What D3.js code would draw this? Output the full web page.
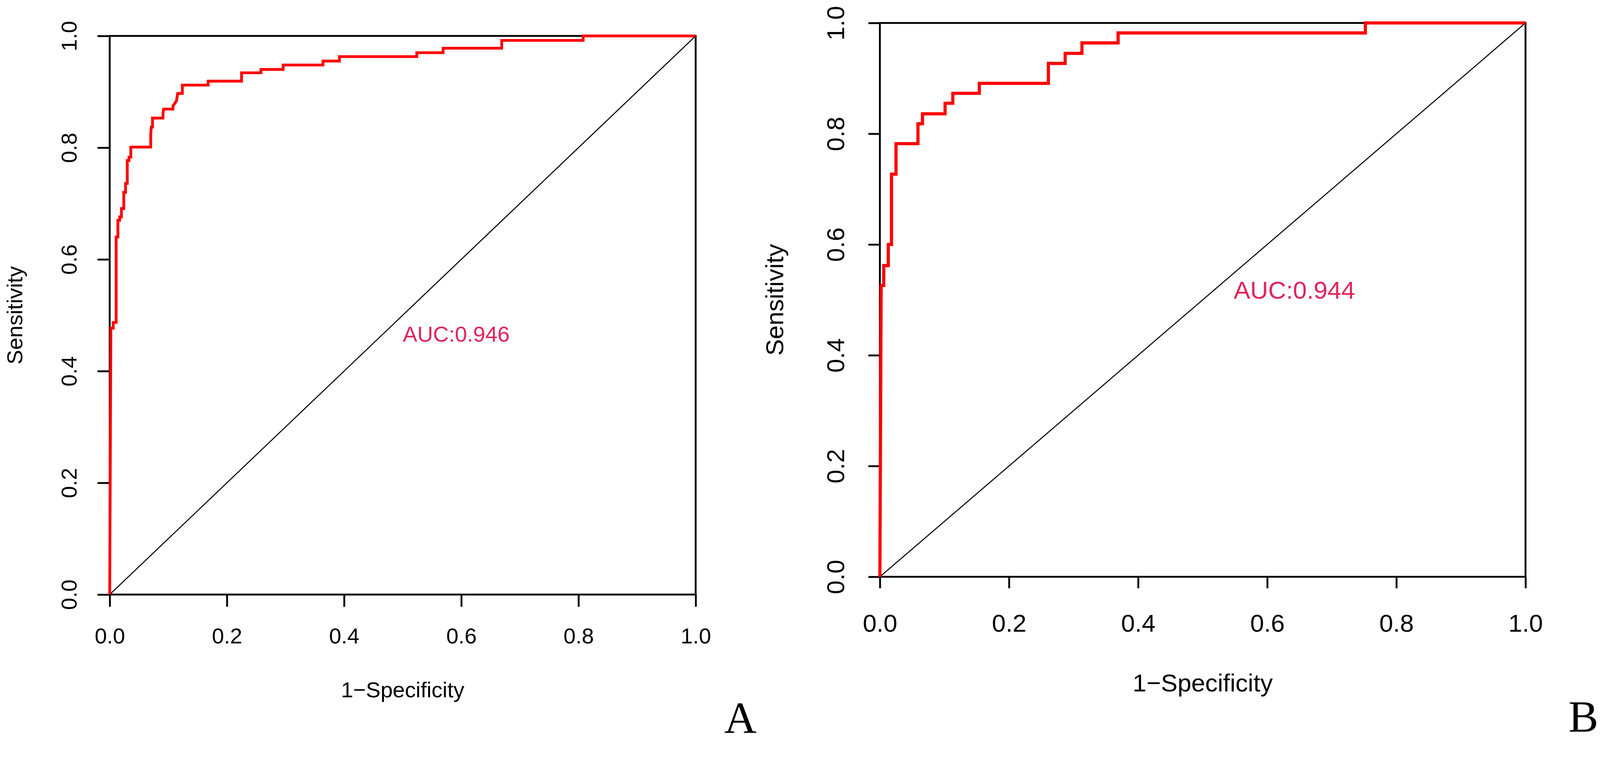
<!DOCTYPE html>
<html>
<head>
<meta charset="utf-8">
<script src="https://cdn.jsdelivr.net/npm/d3@7"></script>
<style>
  html, body { margin: 0; padding: 0; background: #fff; overflow: hidden; }
  svg text { font-family: "Liberation Sans", Arial, sans-serif; }
</style>
</head>
<body>
<div id="chart"></div>
<script>
// ROC curve A (1-specificity, sensitivity) vertices
const fprA = [0, 0.002, 0.006, 0.006, 0.011, 0.011, 0.014, 0.014, 0.017, 0.017,
  0.020, 0.020, 0.024, 0.024, 0.027, 0.027, 0.030, 0.030, 0.033, 0.033,
  0.036, 0.036, 0.070, 0.070, 0.071, 0.073, 0.073, 0.091, 0.091, 0.092,
  0.108, 0.108, 0.111, 0.114, 0.116, 0.124, 0.124, 0.168, 0.168, 0.225,
  0.225, 0.258, 0.258, 0.296, 0.296, 0.364, 0.364, 0.392, 0.392, 0.524,
  0.524, 0.569, 0.569, 0.669, 0.669, 0.808, 0.808, 1];
const tprA = [0, 0.477, 0.477, 0.487, 0.487, 0.640, 0.640, 0.670, 0.670, 0.676,
  0.676, 0.691, 0.691, 0.720, 0.720, 0.736, 0.736, 0.777, 0.777, 0.783,
  0.783, 0.801, 0.801, 0.823, 0.837, 0.837, 0.853, 0.853, 0.862, 0.869,
  0.869, 0.875, 0.879, 0.884, 0.897, 0.897, 0.912, 0.912, 0.919, 0.919,
  0.934, 0.934, 0.940, 0.940, 0.948, 0.948, 0.955, 0.955, 0.963, 0.963,
  0.970, 0.970, 0.978, 0.978, 0.992, 0.992, 1.0, 1];

// ROC curve B
const fprB = [0, 0.002, 0.006, 0.006, 0.013, 0.013, 0.018, 0.018, 0.025, 0.025,
  0.059, 0.059, 0.066, 0.066, 0.101, 0.101, 0.113, 0.113, 0.154, 0.154,
  0.261, 0.261, 0.287, 0.287, 0.313, 0.313, 0.369, 0.369, 0.752, 0.752, 1];
const tprB = [0, 0.526, 0.526, 0.562, 0.562, 0.600, 0.600, 0.727, 0.727, 0.782,
  0.782, 0.818, 0.818, 0.836, 0.836, 0.855, 0.855, 0.873, 0.873, 0.891,
  0.891, 0.927, 0.927, 0.945, 0.945, 0.964, 0.964, 0.982, 0.982, 1.0, 1];

const tickValues = [0, 0.2, 0.4, 0.6, 0.8, 1.0];
const aucLabels = ["AUC:0.946", "AUC:0.944"];
const aucAt = [[0.5, 0.453], [0.548, 0.502]];
const panelLetters = ["A", "B"];
const xTitle = "1\u2212Specificity";
const yTitle = "Sensitivity";

const width = 4317, height = 1985;

// viewBox anchored top-left so the figure fits the window width
const svg = d3.select("#chart").append("svg")
  .attr("viewBox", `0 0 ${width} ${height}`)
  .attr("preserveAspectRatio", "xMinYMin meet")
  .style("width", "100vw")
  .style("height", "100vh")
  .style("display", "block");

// layout of the two panels (pixels)
const panels = [
  { l: 296, r: 1877, t: 97, b: 1605, font: 59, tick: 33, xLabY: 132, yLabX: 89,
    xTitleY: 277, yTitleX: 236, lw: 7.5, letterX: 1954, letterY: 1978,
    fpr: fprA, tpr: tprA, auc: aucLabels[0], aucPos: aucAt[0], letter: panelLetters[0] },
  { l: 2374, r: 4116, t: 62, b: 1557, font: 67, tick: 31, xLabY: 148, yLabX: 96,
    xTitleY: 310, yTitleX: 261, lw: 8.5, letterX: 4232, letterY: 1975,
    fpr: fprB, tpr: tprB, auc: aucLabels[1], aucPos: aucAt[1], letter: panelLetters[1] }
];

const fmt = d3.format(".1f");

panels.forEach(p => {
  const x = d3.scaleLinear().domain([0, 1]).range([p.l, p.r]);
  const y = d3.scaleLinear().domain([0, 1]).range([p.b, p.t]);
  const g = svg.append("g");

  // diagonal reference
  g.append("line")
    .attr("x1", x(0)).attr("y1", y(0))
    .attr("x2", x(1)).attr("y2", y(1))
    .attr("stroke", "#000")
    .attr("stroke-width", 2.8);

  // box
  g.append("rect")
    .attr("x", p.l).attr("y", p.t)
    .attr("width", p.r - p.l).attr("height", p.b - p.t)
    .attr("fill", "none")
    .attr("stroke", "#000")
    .attr("stroke-width", 5);

  // x axis ticks
  const xAxis = g.append("g")
    .attr("transform", `translate(0,${p.b})`)
    .call(d3.axisBottom(x).tickValues(tickValues).tickSize(p.tick).tickFormat(fmt));
  xAxis.select(".domain").remove();
  xAxis.selectAll("line").attr("stroke", "#000").attr("stroke-width", 5);
  xAxis.selectAll("text")
    .attr("y", p.xLabY)
    .attr("dy", null)
    .attr("fill", "#000")
    .style("font-size", p.font + "px");

  // y axis ticks, labels parallel to axis
  const yAxis = g.append("g")
    .attr("transform", `translate(${p.l},0)`)
    .call(d3.axisLeft(y).tickValues(tickValues).tickSize(p.tick).tickFormat(fmt));
  yAxis.select(".domain").remove();
  yAxis.selectAll("line").attr("stroke", "#000").attr("stroke-width", 5);
  yAxis.selectAll("text")
    .attr("x", null)
    .attr("dy", null)
    .attr("text-anchor", "middle")
    .attr("transform", `translate(${-p.yLabX},0) rotate(-90)`)
    .attr("fill", "#000")
    .style("font-size", p.font + "px");

  // ROC curve
  const line = d3.line().x(d => x(d[0])).y(d => y(d[1]));
  g.append("path")
    .datum(d3.zip(p.fpr, p.tpr))
    .attr("d", line)
    .attr("fill", "none")
    .attr("stroke", "#ff0000")
    .attr("stroke-width", p.lw)
    .attr("stroke-linejoin", "miter");

  // AUC label
  g.append("text")
    .attr("x", x(p.aucPos[0]))
    .attr("y", y(p.aucPos[1]))
    .attr("fill", "#e0245a")
    .style("font-size", p.font + "px")
    .text(p.auc);

  // axis titles
  g.append("text")
    .attr("x", (p.l + p.r) / 2)
    .attr("y", p.b + p.xTitleY)
    .attr("text-anchor", "middle")
    .style("font-size", p.font + "px")
    .text(xTitle);

  g.append("text")
    .attr("transform", `translate(${p.l - p.yTitleX},${(p.t + p.b) / 2}) rotate(-90)`)
    .attr("text-anchor", "middle")
    .style("font-size", p.font + "px")
    .text(yTitle);

  // panel letter
  g.append("text")
    .attr("x", p.letterX)
    .attr("y", p.letterY)
    .style("font-family", "'Liberation Serif', 'Times New Roman', serif")
    .style("font-size", "121px")
    .text(p.letter);
});
</script>
</body>
</html>
